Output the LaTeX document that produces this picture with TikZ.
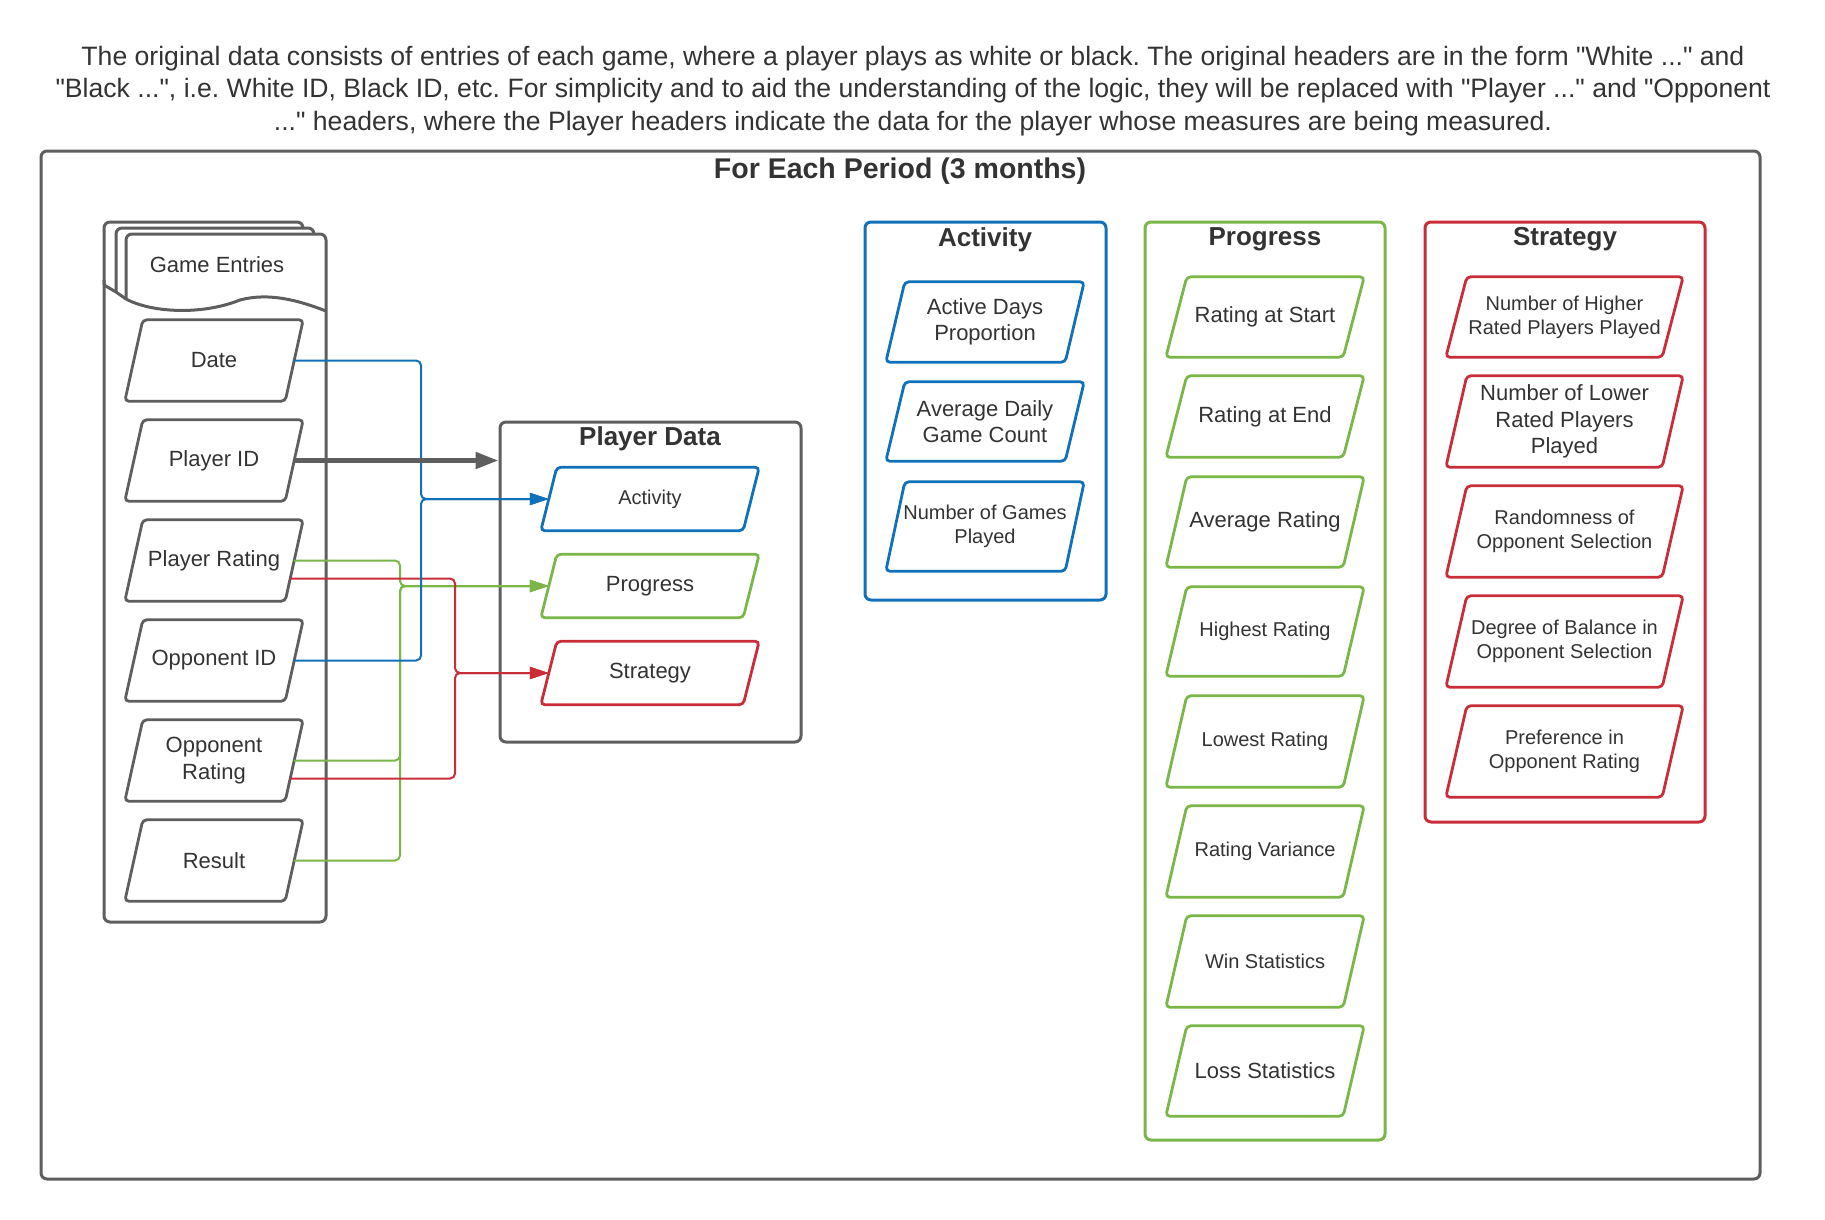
\documentclass[tikz,border=0pt]{standalone}
\usepackage{fontspec}
\setmainfont{Liberation Sans}[Ligatures=TeXOff]
\usetikzlibrary{arrows.meta,calc}
\definecolor{cblue}{HTML}{1071B9}
\definecolor{cgreen}{HTML}{7AB648}
\definecolor{cred}{HTML}{C92D39}
\definecolor{cgray}{HTML}{5E5E5E}
\definecolor{ctext}{HTML}{333333}
\newcommand\szA{\fontsize{22}{26.4}\selectfont}
\newcommand\szB{\fontsize{20}{24}\selectfont}
\newcommand\szT{\bfseries\fontsize{26}{31}\selectfont}
\newcommand\szP{\bfseries\fontsize{28.5}{34}\selectfont}
\newcommand\szH{\fontsize{26.6}{32.4}\selectfont}
\frenchspacing
\tikzset{
  every node/.style={text=ctext},
  pbox/.style={inner sep=0pt, align=center},
  pline/.style={line width=2.8pt, rounded corners=4pt},
  frame/.style={line width=3pt, rounded corners=6pt, inner sep=0pt},
  conn/.style={line width=2pt, rounded corners=5pt},
  tip/.style={-{Triangle[length=19pt,width=12pt]}},
}
\newcommand\pgram[9]{%
  \node[pbox, font=#8, minimum width=#4pt, minimum height=#5pt] (#1) at (#2,#3) {#9};
  \draw[pline, draw=#7] ([xshift=#6/2]#1.north west) -- ([xshift=#6/2]#1.north east)
    -- ([xshift=-#6/2]#1.south east) -- ([xshift=-#6/2]#1.south west) -- cycle;
}
\begin{document}
\begin{tikzpicture}[x=1pt,y=-1pt]
\useasboundingbox (0,0) rectangle (1825,1220);

% header text
\node[align=center, font=\szH] (hdr) at (913,91) {The original data consists of entries of each game, where a player plays as white or black. The original headers are in the form "White ..." and\\
"Black ...", i.e. White ID, Black ID, etc. For simplicity and to aid the understanding of the logic, they will be replaced with "Player ..." and "Opponent\\
..." headers, where the Player headers indicate the data for the player whose measures are being measured.};

% outer frame
\node[frame, draw=cgray, minimum width=1719pt, minimum height=1028pt] (outer) at (900.5,665) {};
\node[font=\szP] (otitle) at (900,171) {For Each Period (3 months)};

% game entries container
\draw[cgray, line width=3pt, rounded corners=6pt] (104,285) -- (104,222) -- (303,222) -- (303,229);
\draw[cgray, line width=3pt, rounded corners=6pt] (116,292) -- (116,228) -- (314,228) -- (314,235);
\draw[cgray, line width=3pt, rounded corners=6pt] (126,300) -- (126,234) -- (326,234) -- (326,922) -- (104,922) -- (104,280);
\draw[cgray, line width=3pt] (104,285) -- (116,292) (116,292) -- (126,299);
\draw[cgray, line width=3pt] (126,299) .. controls (150,312) and (200,316) .. (240,300) .. controls (270,292) and (300,301) .. (326,311);
\node[font=\szA] (ge) at (217,265) {Game Entries};

% left column
\pgram{date}{214}{360.5}{160}{81}{18}{cgray}{\szA}{Date}
\pgram{pid}{214}{460.5}{160}{81}{18}{cgray}{\szA}{Player ID}
\pgram{pr}{214}{560.5}{160}{81}{18}{cgray}{\szA}{Player Rating}
\pgram{oid}{214}{660.5}{160}{81}{18}{cgray}{\szA}{Opponent ID}
\pgram{or}{214}{760.5}{160}{81}{18}{cgray}{\szA}{Opponent\\Rating}
\pgram{res}{214}{860.5}{160}{81}{18}{cgray}{\szA}{Result}

% player data
\node[frame, draw=cgray, minimum width=301pt, minimum height=320pt] (pd) at (650.5,582) {};
\node[font=\szT] (pdt) at (650,439) {Player Data};
\pgram{pa}{650}{499}{202}{63}{16}{cblue}{\szB}{Activity}
\pgram{pp}{650}{586}{202}{63}{16}{cgreen}{\szA}{Progress}
\pgram{ps}{650}{673}{202}{63}{16}{cred}{\szA}{Strategy}

% connectors
\coordinate (bj) at (421,499);
\coordinate (gj) at (400,586);
\coordinate (rj) at (455,673);
\draw[conn, cgreen, tip] (pr.east) -| (gj) -- (pp.west);
\draw[conn, cgreen, tip] (or.east) -| (gj) -- (pp.west);
\draw[conn, cgreen, tip] (res.east) -| (gj) -- (pp.west);
\draw[conn, cred, tip] ($(pr.east)+(-4,18)$) -| (rj) -- (ps.west);
\draw[conn, cred, tip] ($(or.east)+(-4,18)$) -| (rj) -- (ps.west);
\draw[conn, cblue, tip] (date.east) -| (bj) -- (pa.west);
\draw[conn, cblue, tip] (oid.east) -| (bj) -- (pa.west);
\draw[line width=5pt, cgray, -{Triangle[length=23pt,width=16pt]}] (pid.east) -- (pid.east -| pd.west);

% activity column
\node[frame, draw=cblue, minimum width=241pt, minimum height=378pt] (actbox) at (985.5,411) {};
\node[font=\szT] (actt) at (985,240) {Activity};
\pgram{a1}{985}{322}{179}{80}{19}{cblue}{\szA}{Active Days\\Proportion}
\pgram{a2}{985}{421.5}{179}{79}{19}{cblue}{\szA}{Average Daily\\Game Count}
\pgram{a3}{985}{526.5}{179}{89}{19}{cblue}{\szB}{Number of Games\\Played}

% progress column
\node[frame, draw=cgreen, minimum width=240pt, minimum height=918pt] (progbox) at (1265,681) {};
\node[font=\szT] (progt) at (1265,239) {Progress};
\pgram{p1}{1265}{317}{177}{80}{21}{cgreen}{\szA}{Rating at Start}
\pgram{p2}{1265}{416.5}{177}{81}{21}{cgreen}{\szA}{Rating at End}
\pgram{p3}{1265}{522}{177}{90}{21}{cgreen}{\szA}{Average Rating}
\pgram{p4}{1265}{631.5}{177}{89}{21}{cgreen}{\szB}{Highest Rating}
\pgram{p5}{1265}{741.5}{177}{91}{21}{cgreen}{\szB}{Lowest Rating}
\pgram{p6}{1265}{851.5}{177}{91}{21}{cgreen}{\szB}{Rating Variance}
\pgram{p7}{1265}{961.5}{177}{91}{21}{cgreen}{\szB}{Win Statistics}
\pgram{p8}{1265}{1071}{177}{90}{21}{cgreen}{\szA}{Loss Statistics}

% strategy column
\node[frame, draw=cred, minimum width=280pt, minimum height=600pt] (stratbox) at (1565,522) {};
\node[font=\szT] (stratt) at (1565,239) {Strategy};
\pgram{s1}{1564.5}{317}{216}{80}{21}{cred}{\szB}{Number of Higher\\Rated Players Played}
\pgram{s2}{1564.5}{421.5}{216}{91}{21}{cred}{\szA}{Number of Lower\\Rated Players\\Played}
\pgram{s3}{1564.5}{531.5}{216}{91}{21}{cred}{\szB}{Randomness of\\Opponent Selection}
\pgram{s4}{1564.5}{641.5}{216}{91}{21}{cred}{\szB}{Degree of Balance in\\Opponent Selection}
\pgram{s5}{1564.5}{751.5}{216}{91}{21}{cred}{\szB}{Preference in\\Opponent Rating}
\end{tikzpicture}
\end{document}
